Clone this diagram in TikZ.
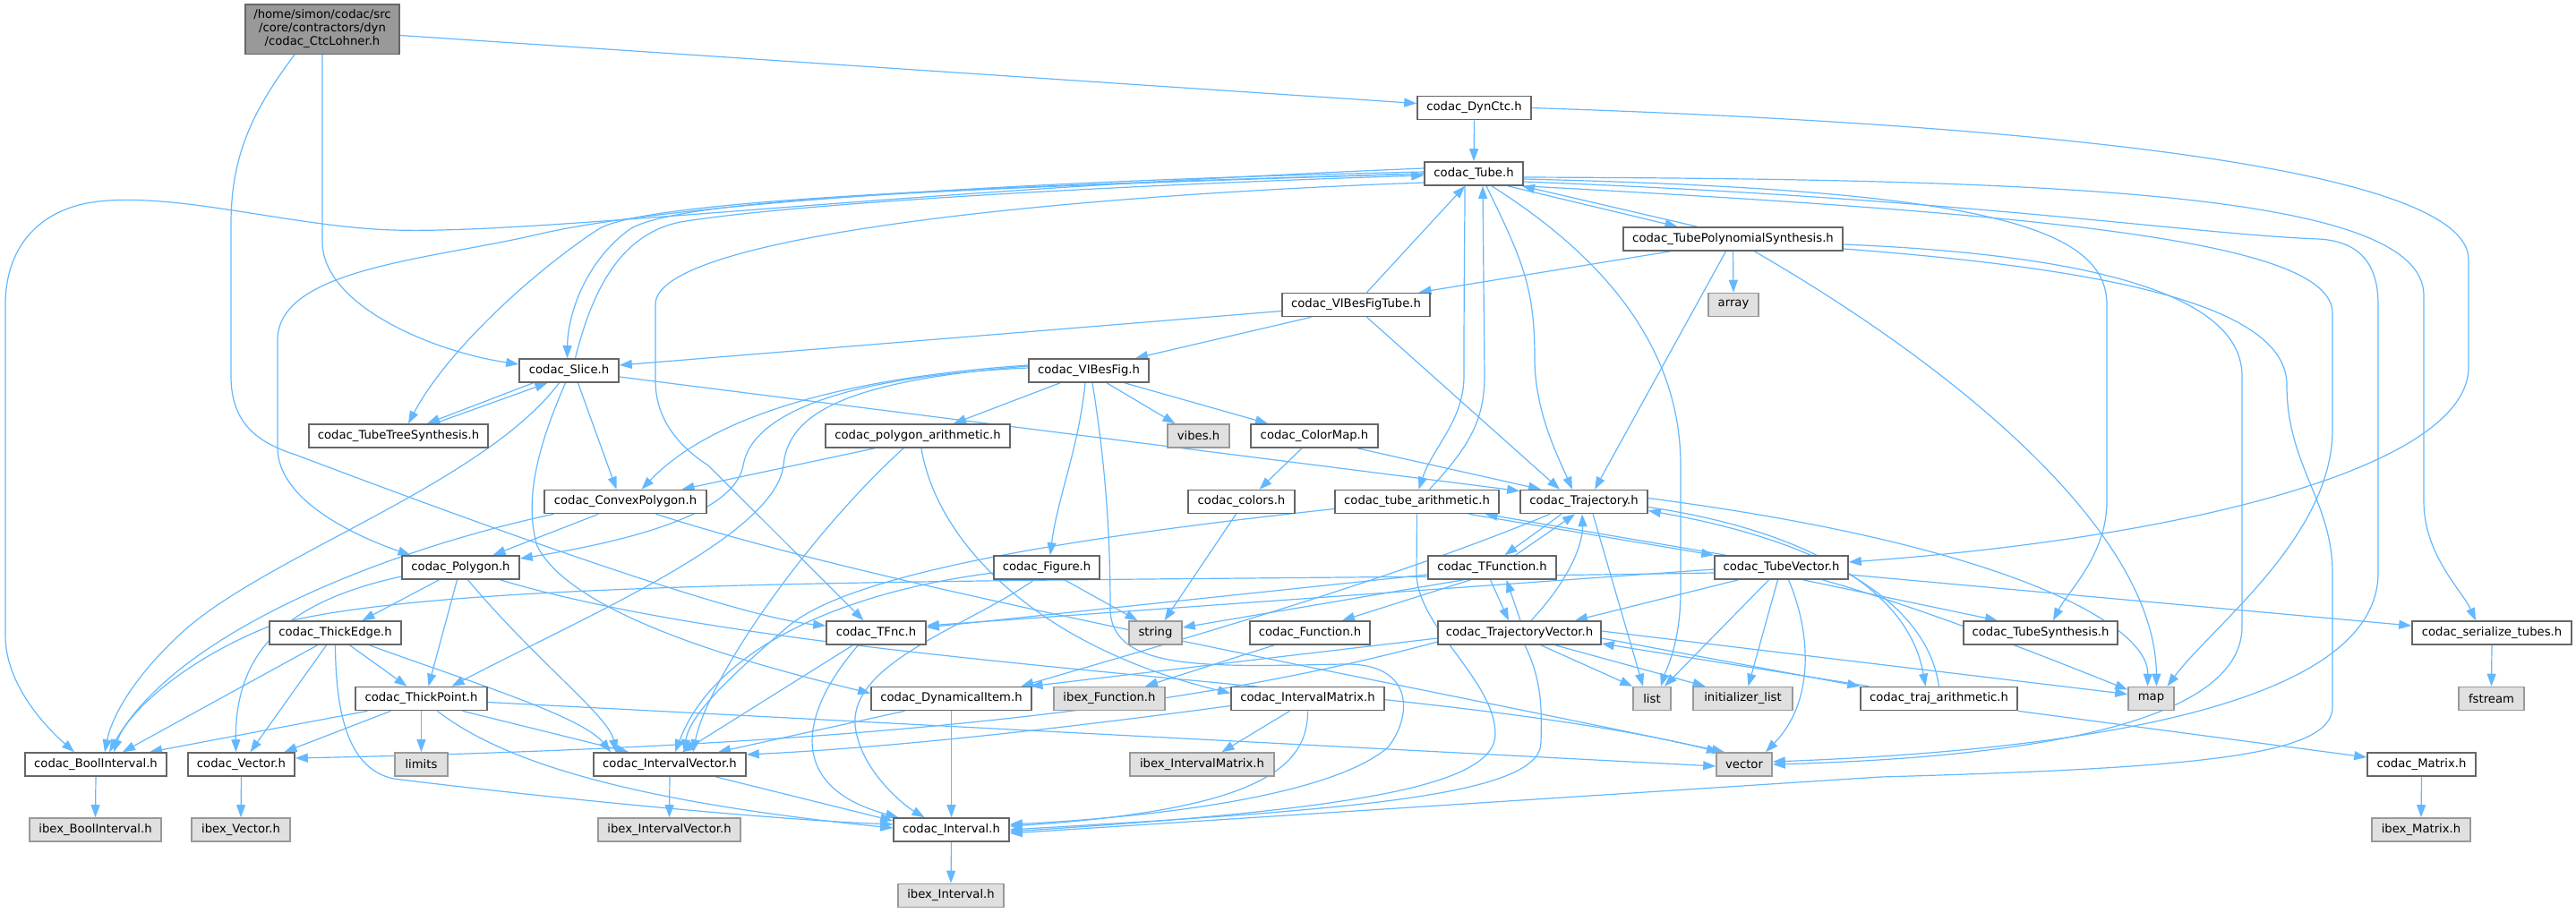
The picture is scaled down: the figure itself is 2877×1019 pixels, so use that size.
\documentclass[tikz,border=0pt]{standalone}
\usepackage{fontspec}
\setmainfont{DejaVu Sans}
\usetikzlibrary{arrows.meta}
\definecolor{edgec}{HTML}{63B8FF}
\definecolor{bord}{HTML}{666666}
\definecolor{gbord}{HTML}{999999}
\definecolor{gfill}{HTML}{E0E0E0}
\definecolor{mfill}{HTML}{999999}
\pgfdeclarelayer{bg}
\pgfsetlayers{bg,main}
\tikzset{
  nd/.style={draw=bord, fill=white, line width=0.8pt, inner sep=0pt, minimum height=13pt,
             font=\fontsize{6.6}{7.5}\selectfont},
  gr/.style={nd, draw=gbord, fill=gfill},
  e/.style={draw=edgec, line width=0.6pt, -{Triangle[length=7pt,width=5pt]}}
}
\begin{document}
\begin{tikzpicture}[x=0.5pt,y=-0.5pt]
\useasboundingbox (0,0) rectangle (2877,1019);
% nodes
\node[nd, fill=mfill, minimum width=86pt, minimum height=27.8pt, align=center] (CtcLohner) at (360,32.5) {/home/simon/codac/src\\/core/contractors/dyn\\/codac\_CtcLohner.h};
\node[nd, minimum width=63.5pt] (DynCtc) at (1646.5,120.5) {codac\_DynCtc.h};
\node[nd, minimum width=55pt] (Tube) at (1646,194) {codac\_Tube.h};
\node[nd, minimum width=122.5pt] (TPS) at (1935.5,267) {codac\_TubePolynomialSynthesis.h};
\node[nd, minimum width=82.5pt] (VIBesFigTube) at (1514.5,340.5) {codac\_VIBesFigTube.h};
\node[gr, minimum width=28pt] (array) at (1936,340.5) {array};
\node[nd, minimum width=55.5pt] (Slice) at (635.5,414) {codac\_Slice.h};
\node[nd, minimum width=67pt] (VIBesFig) at (1216,414) {codac\_VIBesFig.h};
\node[nd, minimum width=100pt] (TTS) at (445,487) {codac\_TubeTreeSynthesis.h};
\node[nd, minimum width=103pt] (polyar) at (1025,487) {codac\_polygon\_arithmetic.h};
\node[gr, minimum width=34.5pt] (vibes) at (1338.5,487) {vibes.h};
\node[nd, minimum width=71pt] (ColorMap) at (1468,487) {codac\_ColorMap.h};
\node[nd, minimum width=90.5pt] (ConvexPolygon) at (698.5,560.5) {codac\_ConvexPolygon.h};
\node[nd, minimum width=59.5pt] (colors) at (1386.5,560.5) {codac\_colors.h};
\node[nd, minimum width=91.5pt] (tubear) at (1582.5,560.5) {codac\_tube\_arithmetic.h};
\node[nd, minimum width=71pt] (Trajectory) at (1769,560.5) {codac\_Trajectory.h};
\node[nd, minimum width=65.5pt] (Polygon) at (514.5,634) {codac\_Polygon.h};
\node[nd, minimum width=59pt] (Figure) at (1169,634) {codac\_Figure.h};
\node[nd, minimum width=71.5pt] (TFunction) at (1666.5,634) {codac\_TFunction.h};
\node[nd, minimum width=74.5pt] (TubeVector) at (1989.5,634) {codac\_TubeVector.h};
\node[nd, minimum width=73.5pt] (ThickEdge) at (374.5,707) {codac\_ThickEdge.h};
\node[nd, minimum width=55.5pt] (TFnc) at (978.5,707) {codac\_TFnc.h};
\node[gr, minimum width=29.5pt] (string) at (1290.5,707) {string};
\node[nd, minimum width=67pt] (Function) at (1463,707) {codac\_Function.h};
\node[nd, minimum width=91pt] (TrajectoryVector) at (1697,707) {codac\_TrajectoryVector.h};
\node[nd, minimum width=86pt] (TubeSynthesis) at (2279,707) {codac\_TubeSynthesis.h};
\node[nd, minimum width=89pt] (serialize) at (2783,707) {codac\_serialize\_tubes.h};
\node[nd, minimum width=73.5pt] (ThickPoint) at (470.5,780.5) {codac\_ThickPoint.h};
\node[nd, minimum width=89.5pt] (DynamicalItem) at (1062.5,780.5) {codac\_DynamicalItem.h};
\node[gr, minimum width=62pt] (ibexFunction) at (1239,780.5) {ibex\_Function.h};
\node[nd, minimum width=85.5pt] (IntervalMatrix) at (1460.5,780.5) {codac\_IntervalMatrix.h};
\node[gr, minimum width=21pt] (list) at (1845,780.5) {list};
\node[gr, minimum width=55.5pt] (initlist) at (1946.5,780.5) {initializer\_list};
\node[nd, minimum width=87.5pt] (trajar) at (2165.5,780.5) {codac\_traj\_arithmetic.h};
\node[gr, minimum width=25.5pt] (map) at (2402.5,780.5) {map};
\node[gr, minimum width=36.5pt] (fstream) at (2782.5,780.5) {fstream};
\node[nd, minimum width=79pt] (BoolInterval) at (107,854) {codac\_BoolInterval.h};
\node[nd, minimum width=59.5pt] (Vector) at (269.5,854) {codac\_Vector.h};
\node[gr, minimum width=29.5pt] (limits) at (470.5,854) {limits};
\node[nd, minimum width=85pt] (IntervalVector) at (748,854) {codac\_IntervalVector.h};
\node[gr, minimum width=80.5pt] (ibexIM) at (1342.5,854) {ibex\_IntervalMatrix.h};
\node[gr, minimum width=31pt] (vector) at (1948,854) {vector};
\node[nd, minimum width=60.5pt] (Matrix) at (2704.5,854) {codac\_Matrix.h};
\node[gr, minimum width=73.5pt] (ibexBI) at (106.5,927) {ibex\_BoolInterval.h};
\node[gr, minimum width=55pt] (ibexVector) at (269,927) {ibex\_Vector.h};
\node[gr, minimum width=79.5pt] (ibexIV) at (747.5,927) {ibex\_IntervalVector.h};
\node[nd, minimum width=64.5pt] (Interval) at (1062.5,927) {codac\_Interval.h};
\node[gr, minimum width=55pt] (ibexMatrix) at (2704,927) {ibex\_Matrix.h};
\node[gr, minimum width=59pt] (ibexInterval) at (1062,1000.5) {ibex\_Interval.h};

\begin{pgfonlayer}{bg}
% CtcLohner
\draw[e] ([yshift=-3.5pt]CtcLohner.east) -- ([yshift=2.5pt]DynCtc.west);
\draw[e] (CtcLohner.south) -- (360,270) .. controls (360,340) and (480,392) .. ([yshift=3.5pt]Slice.west);
\draw[e] ([xshift=-15.5pt]CtcLohner.south) .. controls (285,120) and (258,170) .. (258,250) -- (258,420) .. controls (258,475) and (290,495) .. (330,508) .. controls (600,610) and (830,690) .. ([yshift=4pt]TFnc.west);
% DynCtc
\draw[e] (DynCtc.south) -- (Tube.north);
\draw[e] (DynCtc.east) .. controls (2300,140) and (2757,190) .. (2757,290) -- (2757,410) .. controls (2757,520) and (2450,600) .. ([yshift=3pt]TubeVector.east);
% Tube <-> TPS
\draw[e] ([xshift=19pt]Tube.south) -- ([xshift=-31pt]TPS.north);
\draw[e] ([xshift=-20pt]TPS.north) -- ([xshift=27pt]Tube.south);
\draw[e] ([xshift=6pt]VIBesFigTube.north) -- ([xshift=-5pt]Tube.south);
% TPS
\draw[e] ([xshift=-35pt]TPS.south) -- ([xshift=35pt]VIBesFigTube.north);
\draw[e] (TPS.south) -- (array.north);
\draw[e] ([xshift=-4pt]TPS.south) -- ([xshift=6pt]Trajectory.north);
\draw[e] ([xshift=12pt]TPS.south) .. controls (2200,420) and (2407,600) .. ([xshift=3pt]map.north);
\draw[e] ([yshift=-3pt]TPS.east) .. controls (2300,283) and (2504,320) .. (2504,420) -- (2504,700) .. controls (2504,800) and (2300,845) .. (vector.east);
\draw[e] ([yshift=-5.5pt]TPS.east) .. controls (2350,300) and (2554,340) .. (2554,430) .. controls (2554,520) and (2605,560) .. (2605,640) -- (2605,790) .. controls (2605,845) and (2450,858) .. (2100,868) -- ([yshift=-2pt]Interval.east);
% Tube right side
\draw[e] ([yshift=-2pt]Tube.east) .. controls (2300,200) and (2707,215) .. (2707,330) -- (2707,560) .. controls (2707,620) and (2750,660) .. ([xshift=-9pt]serialize.north);
\draw[e] ([yshift=-3pt]Tube.east) .. controls (2200,212) and (2353,250) .. (2353,340) -- (2353,560) .. controls (2353,620) and (2310,660) .. ([xshift=7pt]TubeSynthesis.north);
\draw[e] ([yshift=-4.5pt]Tube.east) .. controls (2200,222) and (2450,262) .. (2590,267) .. controls (2640,270) and (2656,300) .. (2656,340) -- (2656,640) .. controls (2656,770) and (2400,835) .. ([yshift=1.5pt]vector.east);
\draw[e] (Tube.south east) .. controls (2300,240) and (2605,270) .. (2605,350) -- (2605,480) .. controls (2605,600) and (2470,700) .. ([xshift=9pt]map.north);
% Tube bottom
\draw[e] ([xshift=10pt]Tube.south) .. controls (1780,280) and (1877,380) .. (1877,520) -- (1877,660) .. controls (1877,720) and (1860,750) .. ([xshift=5pt]list.north);
\draw[e] ([xshift=7pt]Tube.south) .. controls (1700,290) and (1714,320) .. (1714,400) .. controls (1714,460) and (1740,510) .. ([xshift=-6.5pt]Trajectory.north);
\draw[e] ([xshift=-5pt]Tube.south) .. controls (1636,260) and (1635,300) .. (1635,420) .. controls (1635,470) and (1600,500) .. ([xshift=1pt]tubear.north);
\draw[e] ([xshift=7pt]tubear.north) .. controls (1640,500) and (1658,470) .. (1658,420) -- ([xshift=5pt]Tube.south);
% Tube left side
\draw[e] ([yshift=-5pt]Tube.west) .. controls (1200,218) and (732,262) .. (732,340) -- (732,425) .. controls (732,470) and (760,500) .. (791,520) -- ([xshift=-7pt]TFnc.north);
\draw[e] ([yshift=3pt]Tube.west) .. controls (1000,212) and (600,262) .. (440,257) .. controls (330,254) and (200,215) .. (110,225) .. controls (40,233) and (6,280) .. (6,340) -- (6,710) .. controls (6,770) and (60,820) .. ([xshift=-12pt]BoolInterval.north);
\draw[e] ([yshift=1pt]Tube.west) .. controls (1000,205) and (700,238) .. (600,262) .. controls (480,290) and (310,300) .. (310,380) -- (310,500) .. controls (310,560) and (400,600) .. ([xshift=-28pt]Polygon.north);
\draw[e] (Tube.west) .. controls (1000,210) and (720,228) .. (670,255) .. controls (600,300) and (500,390) .. ([xshift=5.5pt]TTS.north);
\draw[e] (Tube.west) .. controls (1000,212) and (760,225) .. (705,255) .. controls (655,290) and (634,350) .. ([xshift=-1pt]Slice.north);
\draw[e] ([xshift=3.5pt]Slice.north) .. controls (660,330) and (690,262) .. (760,248) .. controls (900,225) and (1300,205) .. ([yshift=-1pt]Tube.west);
% Slice
\draw[e] ([xshift=-20pt]Slice.south) -- ([xshift=16pt]TTS.north);
\draw[e] ([xshift=20pt]TTS.north) -- ([xshift=-12pt]Slice.south);
\draw[e] ([xshift=-5.5pt]Slice.south) .. controls (540,540) and (300,620) .. (205,705) .. controls (150,755) and (125,800) .. ([xshift=5pt]BoolInterval.north);
\draw[e] ([xshift=-2pt]Slice.south) .. controls (600,500) and (585,560) .. (600,610) .. controls (640,690) and (850,745) .. ([yshift=3pt]DynamicalItem.west);
\draw[e] ([xshift=5pt]Slice.south) -- ([xshift=-5pt]ConvexPolygon.north);
\draw[e] ([yshift=-3.5pt]Slice.east) -- ([yshift=6pt]Trajectory.west);
% VIBesFigTube
\draw[e] ([yshift=-3.5pt]VIBesFigTube.west) -- ([yshift=3pt]Slice.east);
\draw[e] ([xshift=-25pt]VIBesFigTube.south) -- ([xshift=26pt]VIBesFig.north);
\draw[e] ([xshift=6pt]VIBesFigTube.south) -- ([xshift=-13.5pt]Trajectory.north);
% VIBesFig
\draw[e] ([xshift=-16pt]VIBesFig.south) -- ([xshift=20pt]polyar.north);
\draw[e] ([xshift=10pt]VIBesFig.south) -- ([xshift=-13pt]vibes.north);
\draw[e] ([xshift=20pt]VIBesFig.south) -- ([xshift=-26pt]ColorMap.north);
\draw[e] ([xshift=-2pt]VIBesFig.south) .. controls (1205,500) and (1180,560) .. ([xshift=2pt]Figure.north);
\draw[e] ([xshift=2pt]VIBesFig.south) .. controls (1235,520) and (1240,600) .. (1240,680) .. controls (1240,750) and (1350,745) .. (1500,742) .. controls (1580,740) and (1578,800) .. (1550,835) .. controls (1480,895) and (1250,915) .. ([yshift=3pt]Interval.east);
\draw[e] ([yshift=3pt]VIBesFig.west) .. controls (900,425) and (780,480) .. ([xshift=9pt]ConvexPolygon.north);
\draw[e] ([yshift=1.5pt]VIBesFig.west) .. controls (950,420) and (840,460) .. (830,520) .. controls (820,575) and (700,605) .. ([yshift=5pt]Polygon.east);
\draw[e] ([yshift=2.5pt]VIBesFig.west) .. controls (950,425) and (880,460) .. (875,520) .. controls (865,600) and (650,690) .. ([xshift=17pt]ThickPoint.north);
% polygon_arithmetic
\draw[e] ([xshift=-24pt]polyar.south) -- ([xshift=31.5pt]ConvexPolygon.north);
\draw[e] ([xshift=-8pt]polyar.south) .. controls (900,600) and (790,760) .. ([xshift=13pt]IntervalVector.north);
\draw[e] ([xshift=2pt]polyar.south) .. controls (1045,600) and (1150,720) .. ([yshift=3pt]IntervalMatrix.west);
% colors, ColorMap, Figure
\draw[e] ([xshift=-3pt]colors.south) -- ([xshift=5pt]string.north);
\draw[e] ([xshift=-7pt]ColorMap.south) -- ([xshift=10pt]colors.north);
\draw[e] ([xshift=24pt]ColorMap.south) -- ([xshift=-24pt]Trajectory.north);
\draw[e] ([xshift=10pt]Figure.south) -- ([xshift=-10pt]string.north);
\draw[e] ([yshift=-3pt]Figure.west) .. controls (950,660) and (800,720) .. ([xshift=3pt]IntervalVector.north);
\draw[e] ([xshift=-7pt]Figure.south) .. controls (1080,700) and (950,740) .. (955,810) .. controls (960,860) and (1010,900) .. ([xshift=-15pt]Interval.north);
% TFnc, DynamicalItem
\draw[e] ([xshift=-13pt]TFnc.south) -- ([xshift=7pt]IntervalVector.north);
\draw[e] ([xshift=-10pt]TFnc.south) .. controls (890,800) and (880,880) .. ([xshift=3pt]Interval.north west);
\draw[e] ([xshift=-26pt]DynamicalItem.south) -- ([xshift=27pt]IntervalVector.north);
\draw[e] (DynamicalItem.south) -- (Interval.north);
% Polygon
\draw[e] ([xshift=-12pt]Polygon.south) -- ([xshift=15pt]ThickEdge.north);
\draw[e] ([xshift=-2pt]Polygon.south) -- ([xshift=4pt]ThickPoint.north);
\draw[e] ([xshift=4pt]Polygon.south) .. controls (600,740) and (680,800) .. ([xshift=-30pt]IntervalVector.north);
\draw[e] ([yshift=-5pt]Polygon.west) .. controls (330,670) and (262,720) .. ([xshift=-3pt]Vector.north);
\draw[e] ([xshift=22pt]Polygon.south) .. controls (900,750) and (1600,760) .. ([xshift=-14pt]vector.north);
% ConvexPolygon
\draw[e] ([xshift=17pt]ConvexPolygon.south) .. controls (1000,660) and (1500,750) .. ([xshift=-11pt]vector.north);
\draw[e] ([xshift=-15pt]ConvexPolygon.south) -- ([xshift=18pt]Polygon.north);
\draw[e] ([xshift=-40pt]ConvexPolygon.south) .. controls (450,610) and (200,700) .. ([xshift=7.5pt]BoolInterval.north);
% TubeVector
\draw[e] ([yshift=-3pt]TubeVector.west) .. controls (1200,652) and (500,640) .. (300,700) .. controls (200,740) and (140,800) .. ([xshift=10pt]BoolInterval.north);
\draw[e] ([yshift=-1pt]TubeVector.west) -- ([yshift=4pt]TFnc.east);
\draw[e] ([xshift=-31pt]TubeVector.north) -- ([xshift=38pt]tubear.south);
\draw[e] ([xshift=29pt]tubear.south) -- (TubeVector.north west);
\draw[e] ([xshift=-24pt]TubeVector.south) -- ([xshift=31pt]TrajectoryVector.north);
\draw[e] ([xshift=-7pt]TubeVector.south) -- ([xshift=7pt]list.north);
\draw[e] ([xshift=-2pt]TubeVector.south) -- ([xshift=3pt]initlist.north);
\draw[e] ([xshift=4pt]TubeVector.south) .. controls (2020,700) and (2030,780) .. ([xshift=12pt]vector.north);
\draw[e] ([xshift=12pt]TubeVector.south) -- ([xshift=-24pt]TubeSynthesis.north);
\draw[e] ([xshift=23pt]TubeVector.south) .. controls (2150,680) and (2300,740) .. ([yshift=5pt]map.west);
\draw[e] ([yshift=-4pt]TubeVector.east) -- ([yshift=4pt]serialize.west);
% TFunction
\draw[e] ([yshift=-4pt]TFunction.west) -- ([yshift=3pt]TFnc.east);
\draw[e] ([xshift=-16pt]TFunction.south) -- ([yshift=3pt]string.east);
\draw[e] ([xshift=-12pt]TFunction.south) -- ([xshift=18pt]Function.north);
\draw[e] ([xshift=-1pt]TFunction.south) -- ([xshift=-6pt]TrajectoryVector.north);
\draw[e] ([xshift=0.5pt]TrajectoryVector.north) -- ([xshift=8pt]TFunction.south);
\draw[e] ([xshift=13pt]TFunction.north) -- ([xshift=-5pt]Trajectory.south);
% Trajectory
\draw[e] ([xshift=-12.5pt]Trajectory.south) -- ([xshift=7pt]TFunction.north);
\draw[e] ([xshift=6.5pt]TrajectoryVector.north) .. controls (1760,640) and (1768,600) .. ([xshift=-1pt]Trajectory.south);
\draw[e] ([xshift=5pt]Trajectory.south) -- ([xshift=-5pt]list.north);
\draw[e] ([xshift=-19pt]Trajectory.south) .. controls (1550,650) and (1300,720) .. ([xshift=39pt]DynamicalItem.north);
\draw[e] ([yshift=-3pt]Trajectory.east) .. controls (2000,590) and (2130,650) .. ([xshift=-7.5pt]trajar.north);
\draw[e] (trajar.north) .. controls (2150,660) and (2010,600) .. ([yshift=-5pt]Trajectory.east);
\draw[e] ([yshift=2pt]Trajectory.east) .. controls (2250,610) and (2400,700) .. ([xshift=-2pt]map.north);
% tube_arithmetic
\draw[e] ([yshift=-4pt]tubear.west) .. controls (1200,600) and (950,640) .. (880,700) .. controls (810,760) and (770,800) .. ([xshift=8pt]IntervalVector.north);
\draw[e] (tubear.south) -- (1582,640) .. controls (1582,700) and (1670,760) .. (1670,820) .. controls (1670,880) and (1500,905) .. ([yshift=-1pt]Interval.east);
% TrajectoryVector
\draw[e] ([yshift=-5pt]TrajectoryVector.west) .. controls (1300,800) and (900,835) .. ([yshift=3.5pt]Vector.east);
\draw[e] ([yshift=-3pt]TrajectoryVector.west) -- ([xshift=44pt]DynamicalItem.north);
\draw[e] ([xshift=12pt]TrajectoryVector.south) -- (list.north west);
\draw[e] ([xshift=20pt]TrajectoryVector.south) -- ([xshift=-21pt]initlist.north);
\draw[e] ([yshift=-3pt]TrajectoryVector.east) -- (trajar.north west);
\draw[e] ([xshift=5pt]trajar.north west) -- ([yshift=-6pt]TrajectoryVector.east);
\draw[e] ([yshift=1pt]TrajectoryVector.east) -- ([yshift=2.5pt]map.west);
\draw[e] ([xshift=3pt]TrajectoryVector.south) .. controls (1722,760) and (1722,790) .. (1721,830) .. controls (1720,890) and (1500,905) .. ([yshift=0pt]Interval.east);
\draw[e] (trajar.south east) -- ([yshift=4pt]Matrix.west);
% ThickEdge
\draw[e] ([xshift=-10pt]ThickEdge.south) -- ([xshift=15pt]BoolInterval.north);
\draw[e] ([xshift=-5pt]ThickEdge.south) -- ([xshift=5pt]Vector.north);
\draw[e] ([xshift=8pt]ThickEdge.south) -- ([xshift=-8pt]ThickPoint.north);
\draw[e] ([xshift=19pt]ThickEdge.south) .. controls (520,760) and (650,800) .. ([xshift=-33pt]IntervalVector.north);
\draw[e] (ThickEdge.south) .. controls (375,800) and (390,860) .. (440,870) .. controls (600,890) and (850,915) .. ([yshift=3pt]Interval.west);
% ThickPoint
\draw[e] ([xshift=-30pt]ThickPoint.south) -- ([xshift=30pt]BoolInterval.north);
\draw[e] ([xshift=-17pt]ThickPoint.south) -- ([xshift=24pt]Vector.north);
\draw[e] (ThickPoint.south) -- (limits.north);
\draw[e] ([xshift=23pt]ThickPoint.south) -- ([xshift=-23pt]IntervalVector.north);
\draw[e] ([xshift=9pt]ThickPoint.south) .. controls (560,850) and (700,895) .. ([yshift=1pt]Interval.west);
\draw[e] ([yshift=-2pt]ThickPoint.east) -- ([yshift=-1pt]vector.west);
% IntervalMatrix, Function
\draw[e] (IntervalMatrix.south) .. controls (1461,860) and (1400,905) .. ([yshift=2pt]Interval.east);
\draw[e] ([xshift=-10pt]IntervalMatrix.south) -- ([xshift=11pt]ibexIM.north);
\draw[e] ([yshift=-4pt]IntervalMatrix.west) .. controls (1200,812) and (1000,835) .. ([yshift=5.5pt]IntervalVector.east);
\draw[e] ([xshift=-20pt]Function.south) -- ([xshift=20pt]ibexFunction.north);
% bottom layer
\draw[e] ([xshift=25.5pt]IntervalVector.south) -- ([yshift=5pt]Interval.west);
\draw[e] (BoolInterval.south) -- (ibexBI.north);
\draw[e] (Vector.south) -- (ibexVector.north);
\draw[e] (IntervalVector.south) -- (ibexIV.north);
\draw[e] (Interval.south) -- (ibexInterval.north);
\draw[e] (Matrix.south) -- (ibexMatrix.north);
\draw[e] (serialize.south) -- (fstream.north);
\end{pgfonlayer}
\end{tikzpicture}
\end{document}
